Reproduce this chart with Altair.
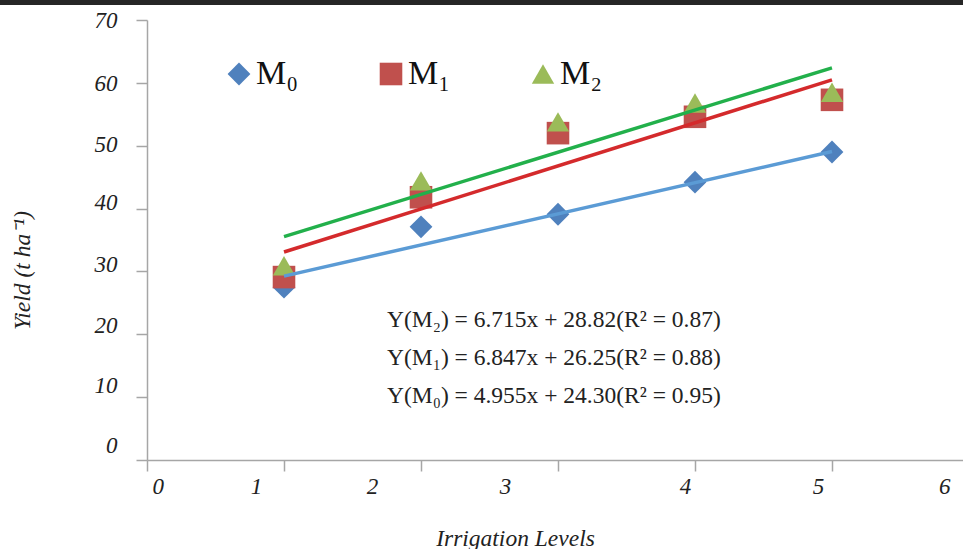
import altair as alt
import pandas as pd

# ---- data ----
levels = [1, 2, 3, 4, 5]
series = ["M₀", "M₁", "M₂"]
yield_m0 = [27.5, 37.1, 39.1, 44.2, 49.0]
yield_m1 = [29.1, 41.8, 52.0, 54.6, 57.3]
yield_m2 = [30.9, 44.4, 53.8, 56.8, 58.5]
slopes = [4.955, 6.847, 6.715]
intercepts = [24.30, 26.25, 28.82]
fit_range = [1, 5]
equations = [
    "Y(M₂) = 6.715x + 28.82(R² = 0.87)",
    "Y(M₁) = 6.847x + 26.25(R² = 0.88)",
    "Y(M₀) = 4.955x + 24.30(R² = 0.95)",
]
x_ticks = [0, 1, 2, 3, 4, 5, 6]
y_ticks = [0, 10, 20, 30, 40, 50, 60, 70]

# ---- styling ----
marker_colors = ["#4F81BD", "#C0504D", "#9BBB59"]
line_colors = ["#5B9BD5", "#D42A2C", "#22B04B"]
shapes = ["diamond", "square", "triangle-up"]
marker_sizes = [520, 500, 430]
x_label_shift = {0: 5, 1: -28, 2: -49, 3: -53, 4: -10, 5: -14, 6: -19}
y_label_shift = {0: -15, 10: -12, 20: -9, 30: -7, 40: -6, 50: -1, 60: 1, 70: 0}
SERIF = "Liberation Serif"

points = pd.DataFrame(
    [
        {"series": s, "level": lv, "yield": v}
        for s, vals in zip(series, [yield_m0, yield_m1, yield_m2])
        for lv, v in zip(levels, vals)
    ]
)
fits = pd.DataFrame(
    [
        {"series": s, "level": lv, "slope": m, "intercept": b}
        for s, m, b in zip(series, slopes, intercepts)
        for lv in fit_range
    ]
)
eq_df = pd.DataFrame({"eq": equations, "row": list(range(len(equations)))})


def shift_cond(d):
    return {
        "condition": [{"test": f"datum.value == {k}", "value": v} for k, v in d.items()],
        "value": 0,
    }


x_scale = alt.Scale(domain=[0, 6], range=[0, 822], nice=False, zero=False)
y_scale = alt.Scale(domain=[0, 70], nice=False)

common_axis = dict(
    grid=False,
    domainColor="#A6A6A6",
    tickColor="#A6A6A6",
    domainWidth=1.5,
    tickWidth=1.5,
    tickSize=11,
    format="d",
    labelFont=SERIF,
    labelFontStyle="italic",
    labelFontSize=23,
    labelColor="#222222",
    titleFont=SERIF,
    titleFontStyle="italic",
    titleFontWeight="normal",
    titleFontSize=23.5,
    titleColor="#222222",
)

x_enc = alt.X(
    "level:Q",
    scale=x_scale,
    axis=alt.Axis(
        values=x_ticks,
        title="Irrigation Levels",
        labelPadding=4,
        labelOffset=shift_cond(x_label_shift),
        titleX=368,
        titleY=78,
        titleAlign="center",
        titleBaseline="middle",
        **common_axis,
    ),
)
y_axis = alt.Axis(
    values=y_ticks,
    title="Yield (t ha⁻¹)",
    labelPadding=19,
    labelOffset=shift_cond(y_label_shift),
    titleX=-125,
    titleY=250,
    titleAngle=-90,
    titleAlign="center",
    titleBaseline="middle",
    **common_axis,
)

pts = alt.Chart(points).mark_point(filled=True, opacity=1, strokeWidth=0).encode(
    x=x_enc,
    y=alt.Y("yield:Q", scale=y_scale, axis=y_axis),
    color=alt.Color(
        "series:N",
        scale=alt.Scale(domain=series, range=marker_colors),
        legend=alt.Legend(
            title=None,
            orient="none",
            legendX=75,
            legendY=37,
            direction="horizontal",
            columns=3,
            columnPadding=75,
            labelFont=SERIF,
            labelFontSize=34,
            labelColor="#111111",
            labelOffset=0,
            symbolSize=430,
            symbolStrokeWidth=0,
            symbolOpacity=1,
            padding=0,
        ),
    ),
    shape=alt.Shape("series:N", scale=alt.Scale(domain=series, range=shapes)),
    size=alt.Size("series:N", scale=alt.Scale(domain=series, range=marker_sizes), legend=None),
    order=alt.Order("series:N"),
)

lines = (
    alt.Chart(fits)
    .transform_calculate(fit="datum.slope * datum.level + datum.intercept")
    .mark_line(strokeWidth=3.5)
    .encode(
        x=alt.X("level:Q", scale=x_scale),
        y=alt.Y("fit:Q", scale=y_scale),
        stroke=alt.Stroke(
            "series:N", scale=alt.Scale(domain=series, range=line_colors), legend=None
        ),
        detail="series:N",
    )
)

eqs = (
    alt.Chart(eq_df)
    .transform_calculate(ypx="300 + datum.row * 38")
    .mark_text(align="left", baseline="middle", font=SERIF, fontSize=23.5, color="#222222")
    .encode(x=alt.value(240), y=alt.Y("ypx:Q", scale=None), text="eq:N")
)

top_bar = (
    alt.Chart(pd.DataFrame({"a": [0]}))
    .mark_rule(color="#262626", strokeWidth=5)
    .encode(x=alt.value(-147), x2=alt.value(816), y=alt.value(-17.5))
)

chart = (
    alt.layer(pts, lines, eqs, top_bar)
    .properties(
        width=816,
        height=440,
        padding={"left": 147, "top": 20, "right": 0, "bottom": 89},
        autosize=alt.AutoSizeParams(type="none"),
        background="white",
    )
    .configure_view(stroke=None)
)

chart.save("out.html", embed_options={"renderer": "svg", "actions": False})
